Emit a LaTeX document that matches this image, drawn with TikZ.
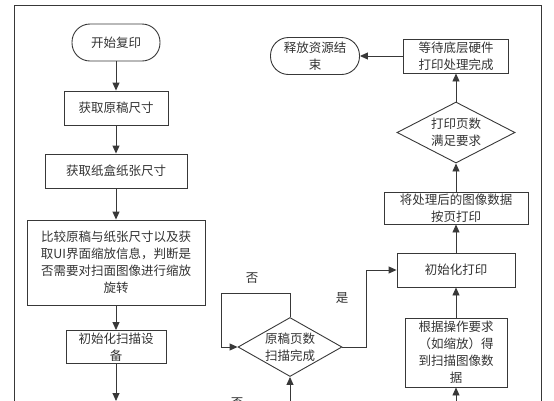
\documentclass[tikz,border=0pt]{standalone}
\usepackage{fontspec}
\setmainfont{Noto Sans CJK SC}
\usetikzlibrary{arrows.meta,shapes.geometric}
\begin{document}
\begin{tikzpicture}[x=1pt,y=-1pt,
  line/.style={draw=black!78, line width=0.9pt},
  arr/.style={line, -{Triangle[length=8pt,width=7pt]}},
  txt/.style={font=\fontsize{12.5}{17}\selectfont, text=black!80, align=center},
  box/.style={line, rectangle, inner sep=0pt, txt},
  term/.style={box, rounded corners=18pt},
  dec/.style={line, diamond, inner sep=0pt}]
\clip (0,0) rectangle (554,400);
% outer frame
\draw[line] (14,410) -- (14,5) -- (541,5) -- (541,410);
% left column
\node[term, minimum width=88pt, minimum height=37pt] (start) at (116,42.5) {开始复印};
\node[box, minimum width=104pt, minimum height=34pt] (b1) at (116,108) {获取原稿尺寸};
\node[box, minimum width=142pt, minimum height=34pt] (b2) at (116,171) {获取纸盒纸张尺寸};
\node[box, minimum width=178pt, minimum height=85pt] (b3) at (116,262.5) {比较原稿与纸张尺寸以及获\\取UI界面缩放信息，判断是\\否需要对扫面图像进行缩放\\旋转};
\node[box, minimum width=100pt, minimum height=33pt] (b4) at (116,347) {初始化扫描设\\备};
\coordinate (c1) at (116,401);
% middle decision
\node[dec, minimum width=104pt, minimum height=59pt, label={[txt]center:原稿页数\\扫描完成}] (d1) at (290,347) {};
\coordinate (cd) at (290,410);
\node[txt] (no1) at (252,278) {否};
\node[txt] (yes1) at (342,298) {是};
\node[txt] (no2) at (237,403) {否};
% right column
\node[box, minimum width=102pt, minimum height=69pt] (r0) at (456,352.5) {根据操作要求\\（如缩放）得\\到扫描图像数\\据};
\node[box, minimum width=118pt, minimum height=34pt] (r1) at (456,270) {初始化打印};
\node[box, minimum width=144pt, minimum height=32pt] (r2) at (456,208) {将处理后的图像数据\\按页打印};
\node[dec, minimum width=118pt, minimum height=61pt, label={[txt]center:打印页数\\满足要求}] (d2) at (456,132.5) {};
\node[box, minimum width=105pt, minimum height=34pt] (r3) at (456,56) {等待底层硬件\\打印处理完成};
\node[term, minimum width=89pt, minimum height=37pt] (end) at (315,56) {释放资源结\\束};
\coordinate (cr) at (456,410);
% connectors
\draw[arr] (start) -- (b1);
\draw[arr] (b1) -- (b2);
\draw[arr] (b2) -- (b3);
\draw[arr] (b3) -- (b4);
\draw[arr] (b4) -- (c1);
\draw[arr] (cd) -- (d1.south);
\draw[arr] (d1.north) -- ++(0,-24) -| ([xshift=-16pt]d1.west) -- (d1.west);
\draw[arr] (d1.east) -- ++(24,0) |- (r1.west);
\draw[arr] (cr) -- (r0);
\draw[arr] (r0) -- (r1);
\draw[arr] (r1) -- (r2);
\draw[arr] (r2) -- (d2.south);
\draw[arr] (d2.north) -- (r3);
\draw[arr] (r3) -- (end);
\end{tikzpicture}
\end{document}
